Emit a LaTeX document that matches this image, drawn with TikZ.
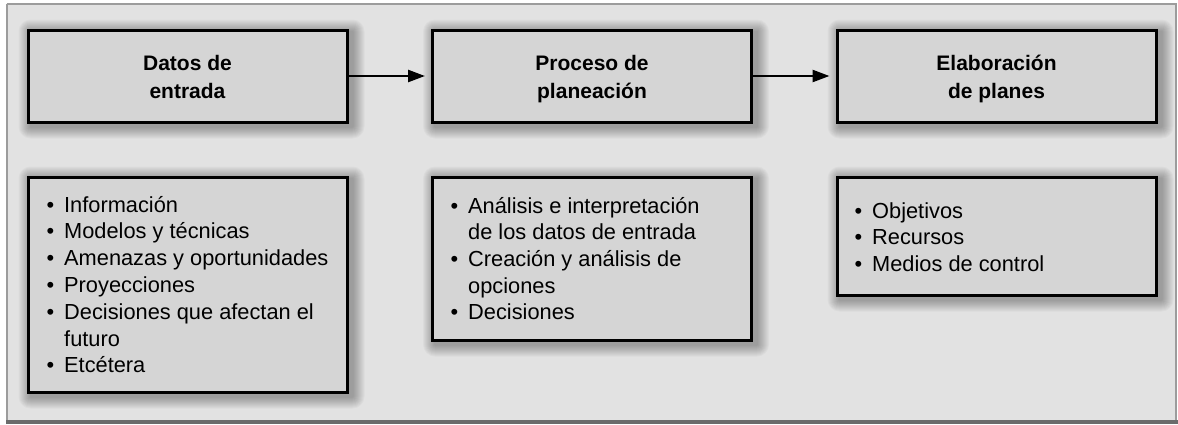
\documentclass[tikz,border=0pt]{standalone}
\usepackage{fontspec}
\setmainfont{Liberation Sans}
\usetikzlibrary{arrows.meta}
\definecolor{bgc}{HTML}{E2E2E2}
\definecolor{boxc}{HTML}{D5D5D5}
\definecolor{framec}{HTML}{9C9C9C}
\definecolor{barc}{HTML}{6B6B6B}
\pgfdeclarelayer{back}
\pgfdeclarelayer{shadow}
\pgfsetlayers{back,shadow,main}
\newcommand{\bul}{\par\noindent\llap{\textbullet\hspace{10pt}}}
\newcommand{\softshadow}[1]{%
  \begin{pgfonlayer}{shadow}
  \foreach \k in {1,...,12}{%
    \fill[black,opacity=0.028,rounded corners=\k pt]
      ([xshift={(4-\k)*1pt},yshift={(\k-3)*1pt}]#1.north west) rectangle
      ([xshift={(4+\k)*1pt},yshift={(-3-\k)*1pt}]#1.south east);}
  \end{pgfonlayer}}
\tikzset{
  box/.style={draw=black,line width=3pt,fill=boxc,inner sep=0pt,minimum width=319pt},
  ttl/.style={anchor=base,inner sep=0pt,font=\bfseries\fontsize{21}{27.5}\selectfont},
  lst/.style={anchor=base west,inner sep=0pt},
  arr/.style={line width=2.5pt,-{Triangle[length=17pt,width=12pt]},shorten >=6pt}
}
\begin{document}
\begin{tikzpicture}[x=1pt,y=-1pt]
\useasboundingbox (0,0) rectangle (1178,424);
\begin{pgfonlayer}{back}
  \fill[white] (0,0) rectangle (1178,424);
  \fill[bgc] (6.7,4) rectangle (1176.3,420);
  \draw[framec,line width=2pt] (6.7,4) -- (6.7,420) (6.7,4) -- (1176.3,4) -- (1176.3,420);
  \fill[barc] (5.7,419.5) rectangle (1178,424);
\end{pgfonlayer}

% top boxes
\node[box,minimum height=92pt] (b1) at (187.5,76) {};
\node[box,minimum height=92pt] (b2) at (592,76) {};
\node[box,minimum height=92pt] (b3) at (996.5,76) {};
% lower boxes
\node[box,minimum height=215pt] (c1) at (187.5,284.5) {};
\node[box,minimum height=163pt] (c2) at (592,258.5) {};
\node[box,minimum height=118pt] (c3) at (996.5,236) {};

\softshadow{b1}\softshadow{b2}\softshadow{b3}
\softshadow{c1}\softshadow{c2}\softshadow{c3}

\node[ttl] (t1) at (187.5,70.7) {\parbox[t]{300pt}{\centering Datos de\\entrada}};
\node[ttl] (t2) at (592,70.7) {\parbox[t]{300pt}{\centering Proceso de\\planeación}};
\node[ttl] (t3) at (996.5,70.7) {\parbox[t]{300pt}{\centering Elaboración\\de planes}};

\node[lst] (l1) at (64,212) {\begin{minipage}[t]{400pt}\raggedright\fontsize{21.8}{26.8}\selectfont
\bul Información
\bul Modelos y técnicas
\bul Amenazas y oportunidades
\bul Proyecciones
\bul Decisiones que afectan el\newline futuro
\bul Etcétera
\end{minipage}};

\node[lst] (l2) at (468,213) {\begin{minipage}[t]{400pt}\raggedright\fontsize{21.8}{26.7}\selectfont
\bul Análisis e interpretación\newline de los datos de entrada
\bul Creación y análisis de\newline opciones
\bul Decisiones
\end{minipage}};

\node[lst] (l3) at (872,218.3) {\begin{minipage}[t]{300pt}\raggedright\fontsize{21.8}{26.5}\selectfont
\bul Objetivos
\bul Recursos
\bul Medios de control
\end{minipage}};

\draw[arr] (b1) -- (b2);
\draw[arr] (b2) -- (b3);
\end{tikzpicture}
\end{document}
